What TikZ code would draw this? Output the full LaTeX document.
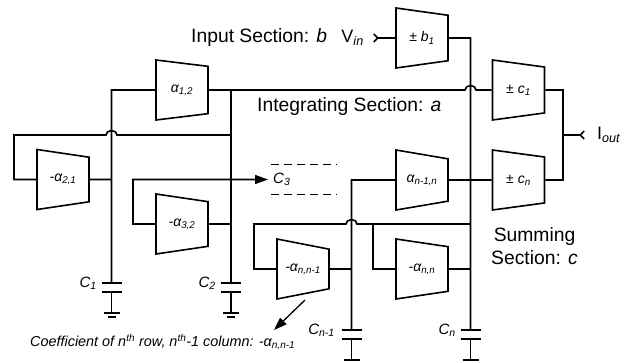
\documentclass[tikz,border=0pt]{standalone}
\usepackage{fontspec}
\setmainfont{Liberation Sans}
\usetikzlibrary{positioning,arrows.meta,shapes.geometric}
\newcommand{\sbs}[1]{\textsubscript{#1}}
\tikzset{
  coef/.style={trapezium, draw, line width=1.6pt, inner sep=0pt, trapezium stretches body,
    shape border rotate=270, trapezium angle=74, minimum width=60pt, minimum height=52pt,
    font=\fontsize{14}{14}\selectfont\itshape},
  wire/.style={line width=1.6pt},
  lbl/.style={font=\fontsize{19.3}{23}\selectfont, inner sep=0pt},
  iolbl/.style={font=\fontsize{18}{18}\selectfont, inner sep=0pt},
  caplbl/.style={font=\fontsize{15}{15}\selectfont\itshape, inner sep=0pt},
  barbtip/.tip={Straight Barb[reversed,length=4pt,width=8pt]},
  solidtip/.tip={Triangle[length=13pt,width=9pt]},
  jump/.style={x radius=5.5pt, y radius=4.5pt}
}
\begin{document}
\begin{tikzpicture}[x=1pt, y=-1pt]
  \useasboundingbox (0,0) rectangle (631,363);
  % coefficient blocks
  \node[coef] (a12) at (182,90) {α\sbs{1,2}};
  \node[coef] (a21) at (63,179.5) {-α\sbs{2,1}};
  \node[coef] (a32) at (182,224) {-α\sbs{3,2}};
  \node[coef] (ann1) at (303,269) {-α\sbs{n,n-1}};
  \node[coef] (ann) at (422,269) {-α\sbs{n,n}};
  \node[coef] (an1n) at (422,180) {α\sbs{n-1,n}};
  \node[coef] (b1) at (422,38) {± b\sbs{1}};
  \node[coef] (c1) at (518.5,90) {± c\sbs{1}};
  \node[coef] (cn) at (518.5,180) {± c\sbs{n}};
  % capacitors to ground
  \foreach \n/\x/\y/\lab/\lx in {1/111.5/283/{C\sbs{1}}/97, 2/230.8/283/{C\sbs{2}}/216,
      3/351.5/330/{C\sbs{n-1}}/335, 4/470.5/330/{C\sbs{n}}/456} {
    \coordinate (cap\n) at (\x,\y);
    \coordinate (gnd\n) at (\x,\y+30);
    \draw[wire] (\x-10,\y) -- (\x+10,\y);
    \draw[wire] (\x-10,\y+9) -- (\x+10,\y+9);
    \draw[wire] (\x,\y+9) -- (gnd\n);
    \draw[wire] (\x-8,\y+30) -- (\x+8,\y+30);
    \draw[line width=1.2pt] (\x-4,\y+34) -- (\x+4,\y+34);
    \node[caplbl,left] at (\lx,\y) {\lab};
  }
  % integrating section
  \coordinate (t1) at (111.5,90);
  \coordinate (j2) at (230.8,90);
  \coordinate (j3) at (230.8,135);
  \coordinate (s1) at (470.5,38);
  \draw[wire] (a12.west) -- (t1) -- (cap1);
  \draw[wire] (j2) -- (cap2);
  \draw[wire] (a12.east) -- (465,90) arc[start angle=180,end angle=0,jump] -- (c1.west);
  \draw[wire] (j3) -- (117,135) arc[start angle=0,end angle=180,jump] -- (14,135) |- (a21.west);
  \draw[wire] (a21.east) -- (111.5,179.5);
  \draw[wire] (a32.east) -- (230.8,224);
  % C3 row
  \coordinate (c3tip) at (268,179.5);
  \node[caplbl,right=5pt of c3tip] (c3) {C\sbs{3}};
  \draw[wire,-{solidtip}] (a32.west) -- (133,224) |- (c3tip);
  \draw[line width=1pt,dash pattern=on 8pt off 5pt] (271,164.5) -- (337,164.5);
  \draw[line width=1pt,dash pattern=on 8pt off 5pt] (271,194.5) -- (337,194.5);
  % row n
  \draw[wire] (an1n.west) -- (351.5,180) -- (cap3);
  \draw[wire] (an1n.east) -- (cn.west);
  \draw[wire] (470.5,224) -- (357,224) arc[start angle=0,end angle=180,jump] -- (254,224) |- (ann1.west);
  \draw[wire] (373,224) |- (ann.west);
  \draw[wire] (ann1.east) -- (351.5,269);
  \draw[wire] (ann.east) -- (470.5,269);
  \draw[wire] (b1.east) -- (s1) -- (cap4);
  % input and output
  \coordinate (vin) at (373,38);
  \coordinate (iout) at (585,135);
  \draw[wire,{barbtip}-] (vin) -- (b1.west);
  \draw[wire] (c1.east) -- (563,90) -- (563,180) -- (cn.east);
  \draw[wire,-{barbtip}] (563,135) -- (iout);
  \node[iolbl,left=9pt of vin] (vinl) {V\sbs{\textit{in}}};
  \node[iolbl,right=12pt of iout] (ioutl) {I\sbs{\textit{out}}};
  % section labels
  \node[lbl,anchor=west] (inp) at (191,38) {Input Section: \textit{b}};
  \node[lbl,anchor=west] (integ) at (257,107) {Integrating Section: \textit{a}};
  \node[lbl,align=center] (summ) at (534.5,246.5) {Summing\\Section: \textit{c}};
  % coefficient note
  \coordinate (n1) at (305,300);
  \coordinate (n2) at (274,330);
  \draw[line width=1.3pt,-{solidtip}] (n1) -- (n2);
  \node[anchor=west,inner sep=0pt,font=\fontsize{14.4}{15}\selectfont\itshape] (note) at (30,342)
    {Coefficient of n\textsuperscript{th} row, n\textsuperscript{th}-1 column: -α\sbs{n,n-1}};
\end{tikzpicture}
\end{document}
